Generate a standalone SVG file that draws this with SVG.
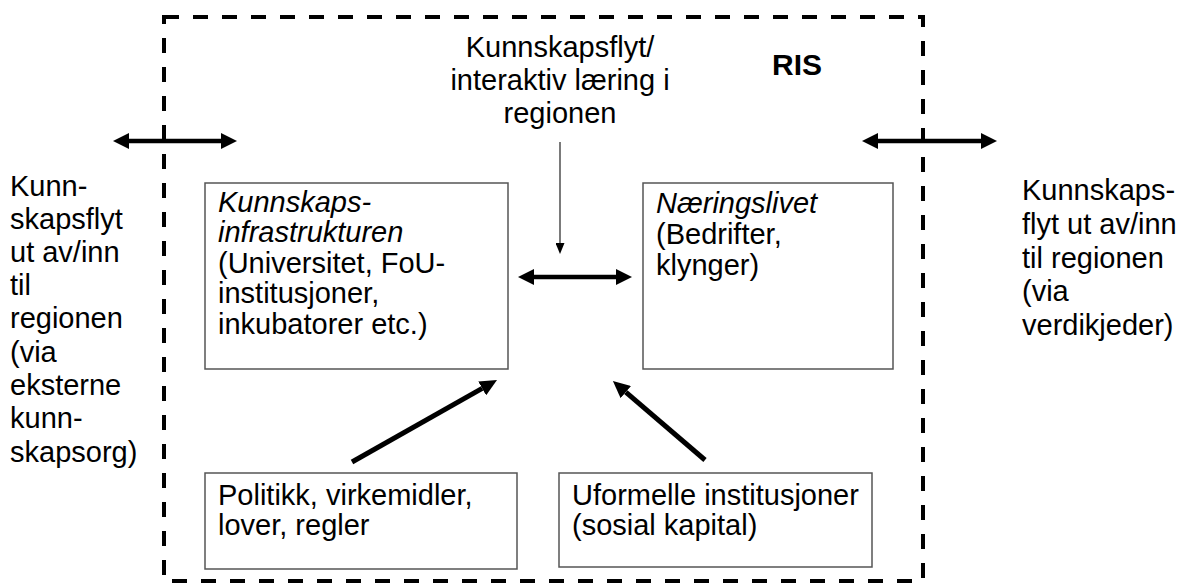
<svg xmlns="http://www.w3.org/2000/svg" width="1179" height="586" viewBox="0 0 1179 586">
<style>
text{font-family:"Liberation Sans",Arial,sans-serif;font-size:29px;fill:#000}
.it{font-style:italic}
.box{fill:#fff;stroke:#555;stroke-width:1.5}
.thick{stroke:#000;stroke-width:4.5;fill:none}
.diag{stroke:#000;stroke-width:5;fill:none}
.thin{stroke:#333;stroke-width:1.3;fill:none}
.frame{fill:none;stroke:#000;stroke-width:4;stroke-dasharray:15 14}
</style>
<defs>
<marker id="hd" markerUnits="userSpaceOnUse" viewBox="0 0 16 16" markerWidth="16" markerHeight="16" refX="0" refY="8" orient="auto-start-reverse"><path d="M0,0 L16,8 L0,16 z" fill="#000"/></marker>
<marker id="hdd" markerUnits="userSpaceOnUse" viewBox="0 0 17 16" markerWidth="17" markerHeight="16" refX="0" refY="8" orient="auto"><path d="M0,0 L17,8 L0,16 z" fill="#000"/></marker>
<marker id="ht" markerUnits="userSpaceOnUse" viewBox="0 0 11 9" markerWidth="11" markerHeight="9" refX="0" refY="4.5" orient="auto"><path d="M0,0 L11,4.5 L0,9 z" fill="#000"/></marker>
</defs>
<rect width="1179" height="586" fill="#fff"/>
<g id="ris-frame">
<rect class="frame" x="164" y="17" width="759" height="564"/>
<text x="797" y="75" text-anchor="middle" font-weight="bold" style="font-size:30px">RIS</text>
</g>
<g id="label-top">
<text x="560" y="57" text-anchor="middle">Kunnskapsflyt/</text>
<text x="560" y="90" text-anchor="middle">interaktiv læring i</text>
<text x="560" y="123" text-anchor="middle">regionen</text>
</g>
<g id="label-left">
<text x="10" y="196">Kunn-</text>
<text x="10" y="229">skapsflyt</text>
<text x="10" y="262">ut av/inn</text>
<text x="10" y="295">til</text>
<text x="10" y="328">regionen</text>
<text x="10" y="362">(via</text>
<text x="10" y="395">eksterne</text>
<text x="10" y="428">kunn-</text>
<text x="10" y="462">skapsorg)</text>
</g>
<g id="label-right">
<text x="1022" y="200">Kunnskaps-</text>
<text x="1022" y="234">flyt ut av/inn</text>
<text x="1022" y="268">til regionen</text>
<text x="1022" y="301">(via</text>
<text x="1022" y="335">verdikjeder)</text>
</g>
<g id="node-kunnskapsinfrastrukturen">
<rect class="box" x="205" y="183" width="303" height="186"/>
<text class="it" x="218" y="212">Kunnskaps-</text>
<text class="it" x="218" y="242">infrastrukturen</text>
<text x="218" y="273">(Universitet, FoU-</text>
<text x="218" y="303">institusjoner,</text>
<text x="218" y="334">inkubatorer etc.)</text>
</g>
<g id="node-naeringslivet">
<rect class="box" x="643" y="183" width="250" height="186"/>
<text class="it" x="656" y="213">Næringslivet</text>
<text x="656" y="244">(Bedrifter,</text>
<text x="656" y="275">klynger)</text>
</g>
<g id="node-politikk">
<rect class="box" x="205" y="473" width="312" height="96"/>
<text x="218" y="505">Politikk, virkemidler,</text>
<text x="218" y="535">lover, regler</text>
</g>
<g id="node-uformelle">
<rect class="box" x="559" y="473" width="313" height="94"/>
<text x="572" y="505">Uformelle institusjoner</text>
<text x="572" y="535">(sosial kapital)</text>
</g>
<g id="connectors">
<line class="thick" x1="129" y1="141" x2="221" y2="141" marker-start="url(#hd)" marker-end="url(#hd)"/>
<line class="thick" x1="878" y1="141" x2="981" y2="141" marker-start="url(#hd)" marker-end="url(#hd)"/>
<line class="thick" x1="534" y1="277" x2="616" y2="277" marker-start="url(#hd)" marker-end="url(#hd)"/>
<line class="thin" x1="560" y1="142" x2="560" y2="243" marker-end="url(#ht)"/>
<line class="diag" x1="352" y1="462" x2="482.2" y2="388.4" marker-end="url(#hdd)"/>
<line class="diag" x1="705" y1="460" x2="625.8" y2="392.1" marker-end="url(#hdd)"/>
</g>
</svg>
